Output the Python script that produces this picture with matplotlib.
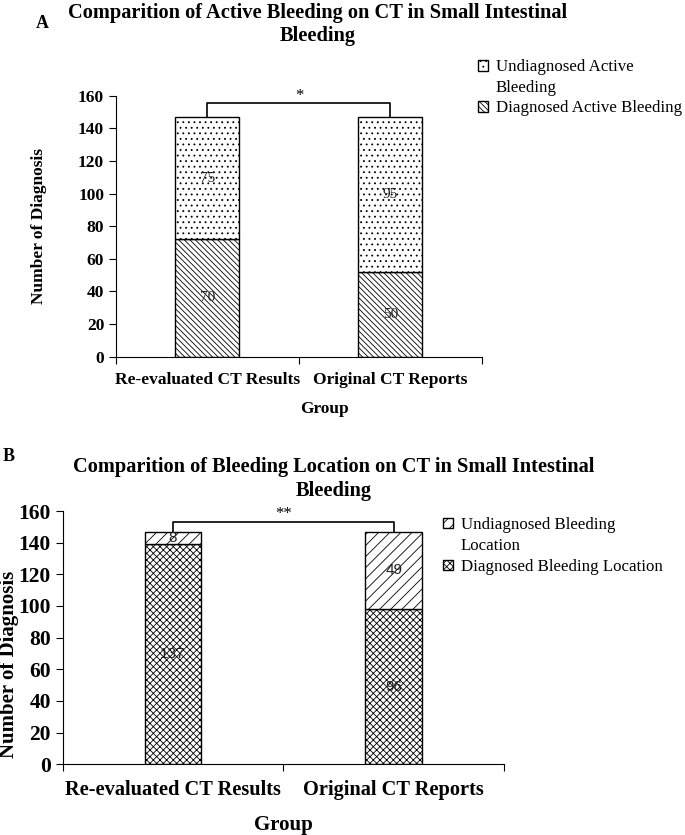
import numpy as np
import matplotlib.pyplot as plt
from matplotlib.patches import Patch

plt.rcParams['font.family'] = ['Liberation Serif', 'DejaVu Serif']
plt.rcParams['hatch.linewidth'] = 0.6

groups = ["Re-evaluated CT Results", "Original CT Reports"]

# panel A: active bleeding
a_diag = [72, 52]
a_undiag = [75, 95]
a_diag_txt = ["70", "50"]
a_undiag_txt = ["75", "95"]

# panel B: bleeding location
b_diag = [139, 98]
b_undiag = [8, 49]
b_diag_txt = ["137", "96"]
b_undiag_txt = ["8", "49"]

yticks = [0, 20, 40, 60, 80, 100, 120, 140, 160]


def panel(ax, diag, undiag, diag_txt, undiag_txt, width, hatch_d, hatch_u,
          xtick_fs, ytick_fs, lab_fs, txt_font, txt_fs, star, bracket_y, star_y):
    x = np.arange(len(groups)) + 0.5
    b1 = ax.bar(x, diag, width, color='white', edgecolor='black', hatch=hatch_d, lw=1)
    b2 = ax.bar(x, undiag, width, bottom=diag, color='white', edgecolor='black',
                hatch=hatch_u, lw=1)
    for i in range(len(x)):
        ax.text(x[i], diag[i] / 2, diag_txt[i], ha='center', va='center',
                fontsize=txt_fs, family=txt_font, color='#222222')
        ax.text(x[i], diag[i] + undiag[i] / 2, undiag_txt[i], ha='center', va='center',
                fontsize=txt_fs, family=txt_font, color='#222222')
    tops = [diag[i] + undiag[i] for i in range(len(x))]
    ax.plot([x[0], x[0], x[1], x[1]], [tops[0], bracket_y, bracket_y, tops[1]],
            color='black', lw=1.2)
    ax.text(x.mean(), star_y, star, ha='center', va='center', fontsize=12)

    ax.set_xlim(0, 2)
    ax.set_ylim(0, 160)
    ax.set_yticks(yticks)
    ax.set_xticks([0, 1, 2])
    ax.set_xticklabels([])
    ax.set_xticks(x, minor=True)
    ax.set_xticklabels(groups, minor=True, fontsize=xtick_fs, fontweight='bold')
    ax.tick_params(axis='x', which='minor', length=0, pad=11)
    ax.tick_params(axis='x', which='major', length=5, direction='out')
    ax.tick_params(axis='y', length=5, labelsize=ytick_fs)
    for t in ax.get_yticklabels():
        t.set_fontweight('bold')
    ax.spines['top'].set_visible(False)
    ax.spines['right'].set_visible(False)
    ax.set_ylabel("Number of Diagnosis", fontsize=lab_fs, fontweight='bold')
    ax.set_xlabel("Group", fontsize=lab_fs, fontweight='bold')
    return b1, b2


blank = Patch(facecolor='none', edgecolor='none')

fig = plt.figure(figsize=(6.85, 8.35), dpi=100)

axA = fig.add_axes([0.1693, 0.5728, 0.5343, 0.3126])
d1, u1 = panel(axA, a_diag, a_undiag, a_diag_txt, a_undiag_txt, 0.35,
               '\\\\\\\\\\\\', '...', 12.5, 12.5, 12.5, 'Liberation Serif', 11,
               '*', 155.3, 160)
axA.xaxis.set_label_coords(0.57, -0.168)
axA.yaxis.set_label_coords(-0.1885, 0.5)
fig.text(0.464, 0.997, "Comparition of Active Bleeding on CT in Small Intestinal\nBleeding",
         ha='center', va='top', fontsize=14.7, fontweight='bold', linespacing=1.25)
fig.text(0.052, 0.972, "A", ha='left', va='center', fontsize=13, fontweight='bold')
fig.legend([u1, blank, d1], ["Undiagnosed Active", "Bleeding", "Diagnosed Active Bleeding"],
           loc='upper left', bbox_to_anchor=(0.698, 0.929), frameon=False,
           borderpad=0, borderaxespad=0,
           fontsize=12.2, handlelength=0.6, handleheight=0.6, handletextpad=0.45,
           labelspacing=0.26)

axB = fig.add_axes([0.0915, 0.0847, 0.6443, 0.3033])
d2, u2 = panel(axB, b_diag, b_undiag, b_diag_txt, b_undiag_txt, 0.257,
               'xxxxx', '///', 14.7, 15.5, 15, 'Liberation Sans', 11,
               '**', 153, 158)
axB.xaxis.set_label_coords(0.5, -0.2)
axB.yaxis.set_label_coords(-0.099, 0.396)
fig.text(0.4876, 0.4527, "Comparition of Bleeding Location on CT in Small Intestinal\nBleeding",
         ha='center', va='top', fontsize=14.7, fontweight='bold', linespacing=1.25)
fig.text(0.004, 0.4527, "B", ha='left', va='center', fontsize=13, fontweight='bold')
fig.legend([u2, blank, d2], ["Undiagnosed Bleeding", "Location", "Diagnosed Bleeding Location"],
           loc='upper left', bbox_to_anchor=(0.647, 0.381), frameon=False,
           borderpad=0, borderaxespad=0,
           fontsize=12.2, handlelength=0.6, handleheight=0.6, handletextpad=0.45,
           labelspacing=0.3)

fig.savefig("out.png", dpi=100)
